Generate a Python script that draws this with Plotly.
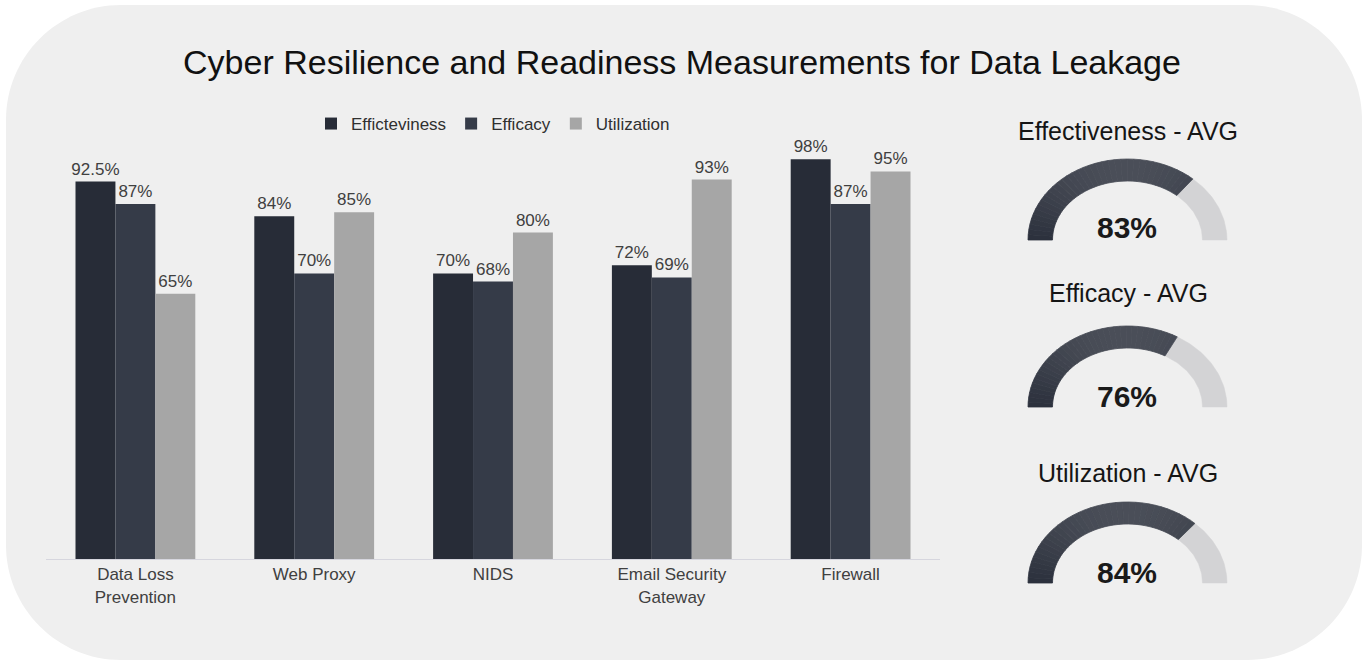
import numpy as np
import plotly.graph_objects as go

W, H = 1364, 664

# ---------------- data ----------------
categories = ["Data Loss<br>Prevention", "Web Proxy", "NIDS", "Email Security<br>Gateway", "Firewall"]
effectiveness = [92.5, 84, 70, 72, 98]
efficacy = [87, 70, 68, 69, 87]
utilization = [65, 85, 80, 93, 95]
series_names = ["Efficteviness", "Efficacy", "Utilization"]

gauge_titles = ["Effectiveness - AVG", "Efficacy - AVG", "Utilization - AVG"]
gauge_values = [83, 76, 84]

# ---------------- style ----------------
FONT = "Liberation Sans, Arial, sans-serif"
bar_colors = ["#272c37", "#353b48", "#a6a6a6"]
TEXT = "#404040"
GAUGE_MAX = 114          # the reference's gauge arcs are scaled to this
G_CX = 1127.5
G_CY = [240, 407, 583]
G_RXO, G_RYO = 99.5, 81
G_RXI, G_RYI = 75, 59
G_TITLE_Y = [131, 293, 473]
G_NUM_Y = [227, 396, 572]

fig = go.Figure()

for name, vals, col in zip(series_names, [effectiveness, efficacy, utilization], bar_colors):
    fig.add_trace(go.Bar(
        x=categories, y=vals, name=name,
        marker=dict(color=col, line=dict(width=0)),
        texttemplate="%{y}%", textposition="outside", constraintext="none",
        cliponaxis=False,
        textfont=dict(family=FONT, size=17, color=TEXT),
        xaxis="x", yaxis="y",
    ))


def mix(c1, c2, t):
    a = np.array([int(c1[i:i + 2], 16) for i in (1, 3, 5)], float)
    b = np.array([int(c2[i:i + 2], 16) for i in (1, 3, 5)], float)
    c = a + (b - a) * t
    return "rgb(%d,%d,%d)" % tuple(np.round(c))


def arc_poly(cy, t0, t1, n=12):
    th = np.linspace(t0, t1, n)
    xo = G_CX + G_RXO * np.cos(th)
    yo = cy - G_RYO * np.sin(th)
    xi = G_CX + G_RXI * np.cos(th[::-1])
    yi = cy - G_RYI * np.sin(th[::-1])
    return np.concatenate([xo, xi, xo[:1]]), np.concatenate([yo, yi, yo[:1]])


for cy, v in zip(G_CY, gauge_values):
    split = np.pi * (1 - v / GAUGE_MAX)
    # light remainder
    xs, ys = arc_poly(cy, split, 0.0, 40)
    fig.add_trace(go.Scatter(x=xs, y=ys, fill="toself", mode="lines",
                             fillcolor="#d3d3d5", line=dict(color="#d3d3d5", width=0.5),
                             xaxis="x2", yaxis="y2", showlegend=False, hoverinfo="skip"))
    # dark value part with a soft vertical gradient
    edges = np.linspace(np.pi, split, 36)
    for a0, a1 in zip(edges[:-1], edges[1:]):
        t = np.sin((a0 + a1) / 2)
        col = mix("#2b303c", "#4a4e58", t)
        xs, ys = arc_poly(cy, a0, a1, 4)
        fig.add_trace(go.Scatter(x=xs, y=ys, fill="toself", mode="lines",
                                 fillcolor=col, line=dict(color=col, width=0.8),
                                 xaxis="x2", yaxis="y2", showlegend=False, hoverinfo="skip"))

annotations = []
for title, v, ty, ny in zip(gauge_titles, gauge_values, G_TITLE_Y, G_NUM_Y):
    annotations.append(dict(x=1128, y=ty, xref="x2", yref="y2", text=title, showarrow=False,
                            font=dict(family=FONT, size=25, color="#151515"),
                            xanchor="center", yanchor="middle"))
    annotations.append(dict(x=1127, y=ny, xref="x2", yref="y2", text="<b>%d%%</b>" % v,
                            showarrow=False, font=dict(family=FONT, size=30, color="#1a1a1a"),
                            xanchor="center", yanchor="middle"))

# rounded background panel (paper coordinates)
L, R, T, B, RAD = 6, 1362, 5, 660, 115
k = 0.5523


def px(x):
    return x / W


def py(y):
    return 1 - y / H


path = (
    f"M {px(L + RAD)} {py(T)} L {px(R - RAD)} {py(T)} "
    f"C {px(R - RAD + k * RAD)} {py(T)} {px(R)} {py(T + RAD - k * RAD)} {px(R)} {py(T + RAD)} "
    f"L {px(R)} {py(B - RAD)} "
    f"C {px(R)} {py(B - RAD + k * RAD)} {px(R - RAD + k * RAD)} {py(B)} {px(R - RAD)} {py(B)} "
    f"L {px(L + RAD)} {py(B)} "
    f"C {px(L + RAD - k * RAD)} {py(B)} {px(L)} {py(B - RAD + k * RAD)} {px(L)} {py(B - RAD)} "
    f"L {px(L)} {py(T + RAD)} "
    f"C {px(L)} {py(T + RAD - k * RAD)} {px(L + RAD - k * RAD)} {py(T)} {px(L + RAD)} {py(T)} Z"
)

fig.update_layout(
    width=W, height=H,
    margin=dict(l=0, r=0, t=0, b=0),
    paper_bgcolor="white", plot_bgcolor="rgba(0,0,0,0)",
    font=dict(family=FONT, color=TEXT),
    title=dict(text="Cyber Resilience and Readiness Measurements for Data Leakage",
               x=0.5, xanchor="center", y=py(62), yanchor="middle",
               font=dict(family=FONT, size=34, color="#111111")),
    barmode="group", bargap=0.33, bargroupgap=0,
    legend=dict(orientation="h", x=px(493), xanchor="center", y=py(124), yanchor="middle",
                font=dict(family=FONT, size=17, color="#303030"), bgcolor="rgba(0,0,0,0)",
                traceorder="normal"),
    xaxis=dict(domain=[px(46), px(940)], showline=True, linecolor="#d6d6de", linewidth=1,
               ticks="", showgrid=False, zeroline=False, fixedrange=True,
               tickfont=dict(family=FONT, size=17, color=TEXT), anchor="y"),
    yaxis=dict(domain=[py(559), py(151)], range=[0, 100], visible=False, showgrid=False,
               fixedrange=True, anchor="x"),
    xaxis2=dict(domain=[0, 1], range=[0, W], visible=False, fixedrange=True, anchor="y2"),
    yaxis2=dict(domain=[0, 1], range=[H, 0], visible=False, fixedrange=True, anchor="x2"),
    shapes=[dict(type="path", path=path, xref="paper", yref="paper", layer="below",
                 fillcolor="#efefef", line=dict(width=0))],
    annotations=annotations,
)

fig.write_html("out.html")
